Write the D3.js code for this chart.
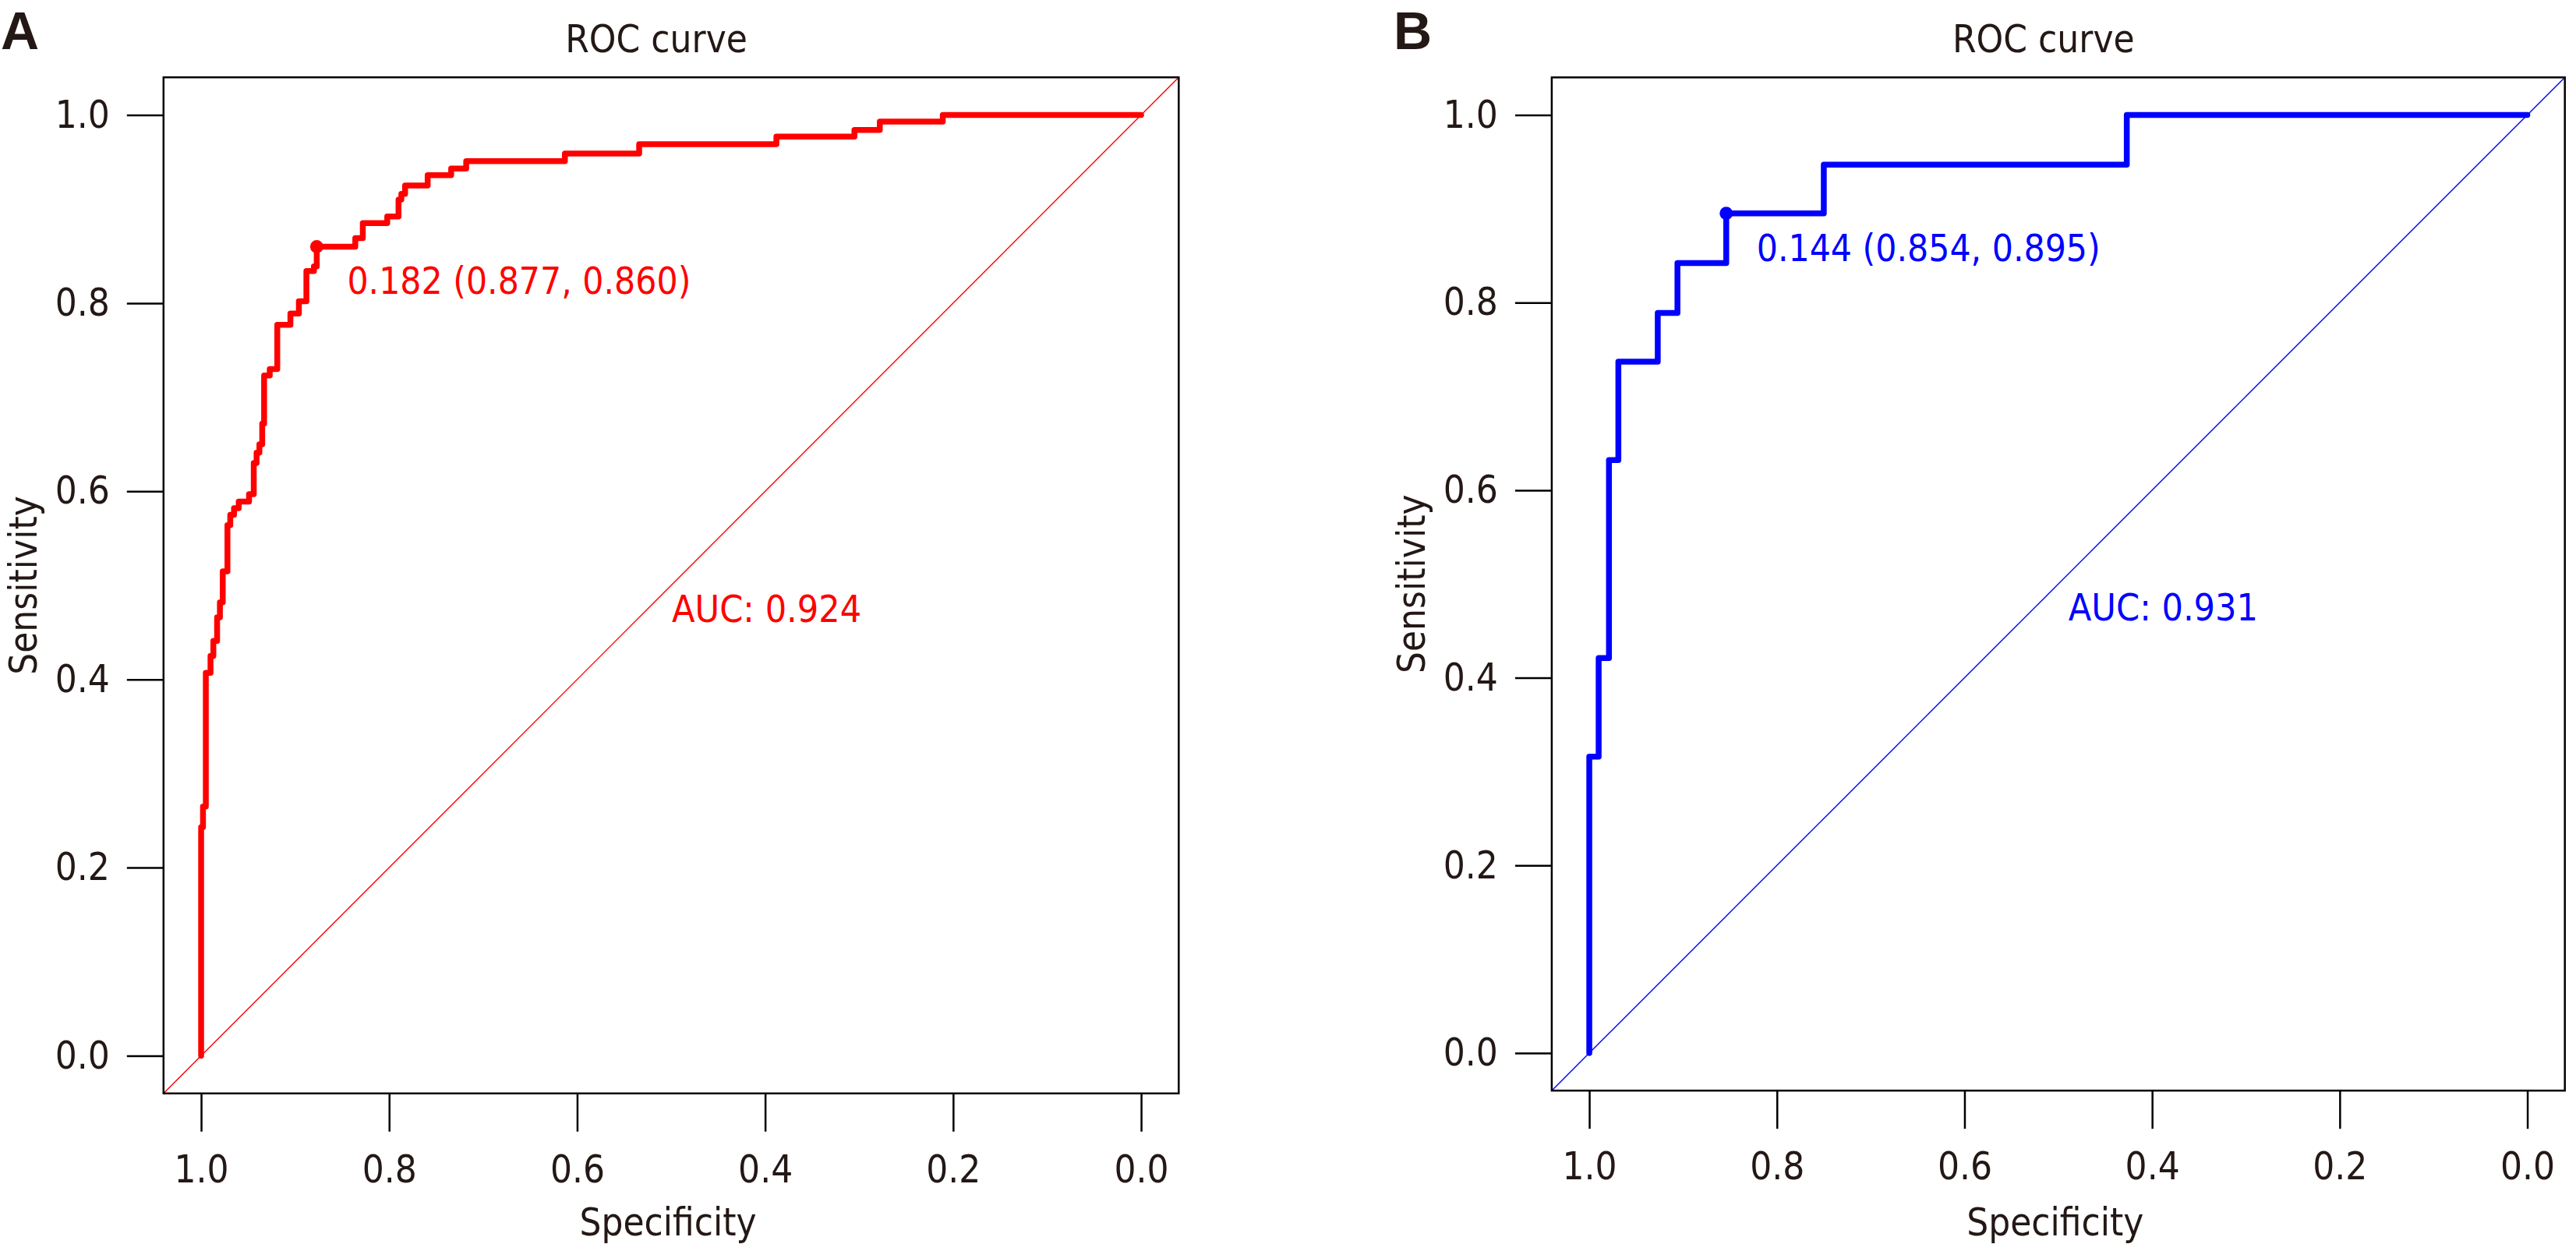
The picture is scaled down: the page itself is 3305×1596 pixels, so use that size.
<!DOCTYPE html>
<html>
<head>
<meta charset="utf-8">
<title>ROC curve</title>
<script src="https://cdn.jsdelivr.net/npm/d3@7"></script>
<style>
    body { margin: 0; background: #ffffff; }
    svg { display: block; }
    text { font-family: "DejaVu Sans Condensed", "DejaVu Sans", sans-serif; font-stretch: condensed; }
</style>
</head>
<body>
<svg id="drawing_region"></svg>
<script>
// panel A: ROC steps (specificity, sensitivity)
const spec_a = [1.000, 1.000, 0.998, 0.995, 0.990, 0.987, 0.983, 0.980, 0.977, 0.972, 0.969, 0.965, 0.960, 0.949,
                0.944, 0.941, 0.938, 0.935, 0.933, 0.927, 0.919, 0.905, 0.896, 0.888, 0.880, 0.877, 0.836, 0.828,
                0.802, 0.790, 0.787, 0.783, 0.759, 0.734, 0.718, 0.613, 0.534, 0.388, 0.305, 0.278, 0.211, 0.000];
const sens_a = [0.000, 0.243, 0.265, 0.407, 0.425, 0.441, 0.466, 0.482, 0.515, 0.564, 0.575, 0.582, 0.589, 0.597,
                0.630, 0.641, 0.650, 0.672, 0.723, 0.730, 0.777, 0.789, 0.802, 0.834, 0.839, 0.860, 0.869, 0.885,
                0.892, 0.910, 0.916, 0.925, 0.936, 0.943, 0.951, 0.959, 0.969, 0.977, 0.984, 0.993, 1.000, 1.000];
const best_a = [0.182, 0.877, 0.860];   // threshold, specificity, sensitivity
const auc_a = 0.924;

// panel B
const spec_b = [1.000, 1.000, 0.990, 0.979, 0.969, 0.927, 0.906, 0.854, 0.750, 0.427, 0.000];
const sens_b = [0.000, 0.316, 0.421, 0.632, 0.737, 0.789, 0.842, 0.895, 0.947, 1.000, 1.000];
const best_b = [0.144, 0.854, 0.895];
const auc_b = 0.931;

const tick_values = [1.0, 0.8, 0.6, 0.4, 0.2, 0.0];

class RocChart {

    constructor( config, data ) {
        this.config = {
            parent: config.parent,
            left: config.left,
            top: config.top,
            width: config.width,
            height: config.height,
            color: config.color,
            letter: config.letter,
            letter_x: config.letter_x,
            auc_pos: config.auc_pos || [0.5, 0.5],
            font_size: config.font_size || 49
        };
        this.data = data;
        this.init();
    }

    init() {
        let self = this;
        self.svg = d3.select( self.config.parent );
        self.chart = self.svg.append('g');

        self.xscale = d3.scaleLinear()
            .domain( [1.04, -0.04] )
            .range( [self.config.left, self.config.left + self.config.width] );
        self.yscale = d3.scaleLinear()
            .domain( [-0.04, 1.04] )
            .range( [self.config.top + self.config.height, self.config.top] );

        self.clip_id = 'clip_' + self.config.letter;
        self.chart.append('clipPath')
            .attr('id', self.clip_id)
            .append('rect')
            .attr('x', self.config.left)
            .attr('y', self.config.top)
            .attr('width', self.config.width)
            .attr('height', self.config.height);
    }

    update() {
        let self = this;
        self.points = d3.zip( self.data.spec, self.data.sens );
        self.line = d3.line()
            .x( d => self.xscale(d[0]) )
            .y( d => self.yscale(d[1]) )
            .curve( d3.curveStepAfter );
        this.render();
    }

    render() {
        let self = this;
        const c = self.config;
        const fs = c.font_size + 'px';
        const ink = '#231815';

        // identity line, clipped to the box
        self.chart.append('line')
            .attr('clip-path', `url(#${self.clip_id})`)
            .attr('x1', self.xscale(1.04)).attr('y1', self.yscale(-0.04))
            .attr('x2', self.xscale(-0.04)).attr('y2', self.yscale(1.04))
            .attr('stroke', c.color)
            .attr('stroke-width', 1.4);

        // ROC curve
        self.chart.append('path')
            .datum( self.points )
            .attr('d', self.line)
            .attr('fill', 'none')
            .attr('stroke', c.color)
            .attr('stroke-width', 7.5)
            .attr('stroke-linejoin', 'round')
            .attr('stroke-linecap', 'round');

        // best threshold
        const best = self.data.best;
        self.chart.append('circle')
            .attr('cx', self.xscale(best[1]))
            .attr('cy', self.yscale(best[2]))
            .attr('r', 8.5)
            .attr('fill', c.color);
        self.chart.append('text')
            .attr('x', self.xscale(best[1]) + 39)
            .attr('y', self.yscale(best[2]) + 61)
            .attr('fill', c.color)
            .style('font-size', '47.5px')
            .text( `${best[0].toFixed(3)} (${best[1].toFixed(3)}, ${best[2].toFixed(3)})` );

        // AUC
        self.chart.append('text')
            .attr('x', self.xscale(c.auc_pos[0]) + 1)
            .attr('y', self.yscale(c.auc_pos[1]) + 47)
            .attr('fill', c.color)
            .style('font-size', '48px')
            .text( 'AUC: ' + self.data.auc.toFixed(3) );

        // box
        self.chart.append('rect')
            .attr('x', c.left)
            .attr('y', c.top)
            .attr('width', c.width)
            .attr('height', c.height)
            .attr('fill', 'none')
            .attr('stroke', '#000')
            .attr('stroke-width', 2.5);

        // axes
        const yaxis = self.chart.append('g')
            .attr('transform', `translate(${c.left}, 0)`)
            .call( d3.axisLeft(self.yscale).tickValues(tick_values).tickFormat(d3.format('.1f'))
                .tickSize(47).tickPadding(22) );
        const xaxis = self.chart.append('g')
            .attr('transform', `translate(0, ${c.top + c.height})`)
            .call( d3.axisBottom(self.xscale).tickValues(tick_values).tickFormat(d3.format('.1f'))
                .tickSize(49).tickPadding(30) );
        [yaxis, xaxis].forEach( ax => {
            ax.select('.domain').remove();
            ax.selectAll('.tick line').attr('stroke', '#000').attr('stroke-width', 2.5);
            ax.selectAll('.tick text')
                .attr('fill', ink)
                .style('font-size', fs)
                .style('font-family', '"DejaVu Sans Condensed", "DejaVu Sans", sans-serif');
        });

        // titles and labels
        const cx = c.left + c.width / 2;
        const cy = c.top + c.height / 2;
        self.chart.append('text')
            .attr('x', cx - 19)
            .attr('y', 67)
            .attr('text-anchor', 'middle')
            .attr('fill', ink)
            .style('font-size', fs)
            .text('ROC curve');
        self.chart.append('text')
            .attr('x', cx - 4)
            .attr('y', 1585)
            .attr('text-anchor', 'middle')
            .attr('fill', ink)
            .style('font-size', fs)
            .text('Specificity');
        self.chart.append('text')
            .attr('transform', `translate(${c.left - 163}, ${cy}) rotate(-90)`)
            .attr('text-anchor', 'middle')
            .attr('fill', ink)
            .style('font-size', fs)
            .text('Sensitivity');
        self.chart.append('text')
            .attr('x', c.letter_x)
            .attr('y', 63)
            .attr('fill', ink)
            .style('font-family', '"Liberation Sans Narrow", "Liberation Sans", Arial, sans-serif')
            .style('font-weight', 'bold')
            .style('font-size', '68px')
            .text(c.letter);
    }
}

const svg = d3.select('#drawing_region')
    .attr('width', 3305)
    .attr('height', 1596);

const chartA = new RocChart(
    { parent: '#drawing_region', left: 209.8, top: 99.2, width: 1302.5, height: 1303.6,
      color: '#ff0000', letter: 'A', letter_x: 1 },
    { spec: spec_a, sens: sens_a, best: best_a, auc: auc_a } );
chartA.update();

const chartB = new RocChart(
    { parent: '#drawing_region', left: 1990.9, top: 99.3, width: 1299.8, height: 1299.9,
      color: '#0000ff', letter: 'B', letter_x: 1788, auc_pos: [0.49, 0.5] },
    { spec: spec_b, sens: sens_b, best: best_b, auc: auc_b } );
chartB.update();
</script>
</body>
</html>
